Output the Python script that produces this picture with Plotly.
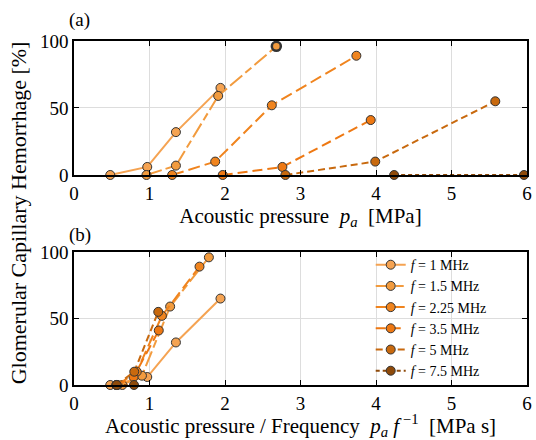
import plotly.graph_objects as go

# frequencies [MHz]
freqs = [1, 1.5, 2.25, 3.5, 5, 7.5]
labels = ["1", "1.5", "2.25", "3.5", "5", "7.5"]

# acoustic pressure [MPa] and hemorrhage [%] per frequency
p_1 = [0.48, 0.97, 1.35, 1.94]
h_1 = [0, 6, 32, 65]
p_15 = [0.96, 1.35, 1.91, 2.68]
h_15 = [0, 7, 59, 96]
p_225 = [1.30, 1.87, 2.62, 3.74]
h_225 = [0, 10, 52, 89]
p_35 = [1.97, 2.76, 3.93]
h_35 = [0, 6, 41]
p_5 = [2.80, 3.99, 5.58]
h_5 = [0, 10, 55]
p_75 = [4.24, 5.96]
h_75 = [0, 0]

pressures = [p_1, p_15, p_225, p_35, p_5, p_75]
hemos = [h_1, h_15, h_225, h_35, h_5, h_75]

colors = ['#F5A352', '#F29B3E', '#F0841E', '#EE7812', '#C8690E', '#8E4A0A']
dashes = ['solid', '16px,4px,8px,4px', '12px,5px', '10px,5px', '7px,4px', '4px,3px']

FONT = "Liberation Serif"

fig = go.Figure()
for i, f in enumerate(freqs):
    p = pressures[i]
    h = hemos[i]
    lw = [1] * len(p)
    if f == 1.5:
        lw[-1] = 2.5
    # top: pressure
    fig.add_trace(go.Scatter(
        x=p, y=h, mode='lines+markers', showlegend=False, cliponaxis=False,
        line=dict(color=colors[i], width=2, dash=dashes[i]),
        marker=dict(size=9, color=colors[i], line=dict(color='#333', width=lw)),
        xaxis='x', yaxis='y'))
    # bottom: pressure / frequency
    fig.add_trace(go.Scatter(
        x=[v / f for v in p], y=h, mode='lines+markers',
        name='<i>f</i> = ' + labels[i] + ' MHz', cliponaxis=False,
        line=dict(color=colors[i], width=2, dash=dashes[i]),
        marker=dict(size=9, color=colors[i], line=dict(color='#333', width=1)),
        xaxis='x2', yaxis='y2'))

ax = dict(range=[0, 6], dtick=1, showgrid=True, gridcolor='#DDDDDD', gridwidth=1,
          showline=True, linecolor='black', linewidth=1.5, mirror='ticks',
          ticks='inside', ticklen=5, tickcolor='black', zeroline=False,
          tickfont=dict(size=19, family=FONT, color='black'))
ay = dict(range=[0, 100], tickvals=[0, 50, 100], showgrid=True, gridcolor='#DDDDDD',
          showline=True, linecolor='black', linewidth=1.5, mirror='ticks',
          ticks='inside', ticklen=5, tickcolor='black', zeroline=False,
          tickfont=dict(size=19, family=FONT, color='black'))

fig.update_layout(
    width=536, height=440,
    margin=dict(l=74, r=4, t=41, b=55),
    plot_bgcolor='white', paper_bgcolor='white',
    font=dict(family=FONT, color='black'),
    xaxis=dict(ax, anchor='y', title=dict(text='Acoustic pressure  <i>p<sub>a</sub></i>  [MPa]',
                                          font=dict(size=21), standoff=2)),
    yaxis=dict(ay, domain=[0.6105, 1], anchor='x'),
    xaxis2=dict(ax, anchor='y2', title=dict(text='Acoustic pressure / Frequency  <i>p<sub>a</sub> f</i><sup> −1</sup>  [MPa s]',
                                            font=dict(size=21), standoff=2)),
    yaxis2=dict(ay, domain=[0, 0.3866], anchor='x2'),
    legend=dict(x=0.655, y=0.395, xanchor='left', yanchor='top', bgcolor='rgba(255,255,255,0)',
                font=dict(size=14, family=FONT), tracegroupgap=0, itemwidth=30),
    annotations=[
        dict(text='(a)', x=-0.015, y=1.0, xref='paper', yref='paper', xanchor='left', yanchor='bottom',
             showarrow=False, font=dict(size=19, family=FONT), yshift=8),
        dict(text='(b)', x=-0.015, y=0.3866, xref='paper', yref='paper', xanchor='left', yanchor='bottom',
             showarrow=False, font=dict(size=19, family=FONT), yshift=4),
        dict(text='Glomerular Capillary Hemorrhage [%]', x=-0.155, y=0.5, xref='paper', yref='paper',
             textangle=-90, showarrow=False, font=dict(size=22, family=FONT)),
    ],
)

fig.write_html("out.html", post_script="document.body.style.margin='0';",
               config={'displayModeBar': False})
